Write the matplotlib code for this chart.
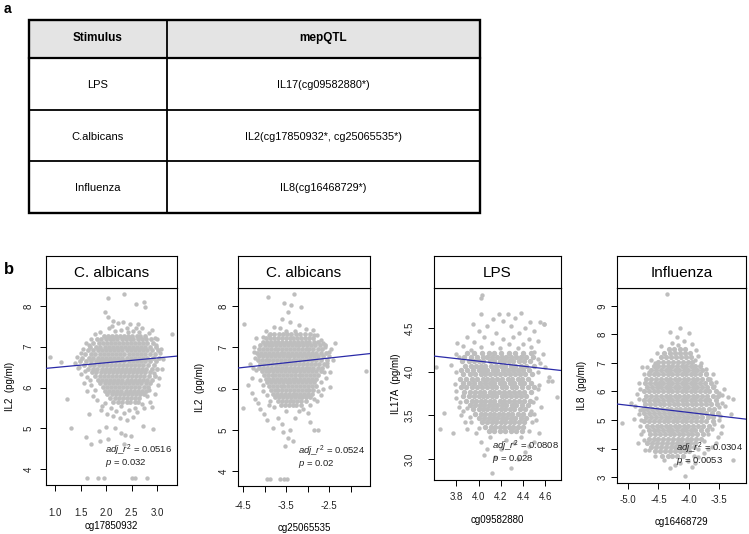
import matplotlib.pyplot as plt
import matplotlib.patches as mpatches

plt.rcParams['font.family'] = ['Liberation Sans', 'DejaVu Sans']
plt.rcParams['axes.unicode_minus'] = False
plt.rcParams['mathtext.fontset'] = 'custom'
plt.rcParams['mathtext.rm'] = 'Liberation Sans'
plt.rcParams['mathtext.it'] = 'Liberation Sans:italic'

# ---------------- table (panel a) ----------------
table_header = ["Stimulus", "mepQTL"]
stimuli = ["LPS", "C.albicans", "Influenza"]
mepqtl = ["IL17(cg09582880*)", "IL2(cg17850932*, cg25065535*)", "IL8(cg16468729*)"]

# ---------------- scatter data (panel b) ----------------
# dense cores as rows (y, [x...]), outliers as (x, y)
ca1_rows = [
    (7.27, [1.95, 2.04, 2.11, 2.2, 2.27, 2.36, 2.43, 2.5, 2.6, 2.67, 2.76]),
    (7.18, [1.82, 1.9, 1.99, 2.07, 2.14, 2.22, 2.31, 2.38, 2.46, 2.53, 2.62, 2.7, 2.79, 2.88]),
    (7.09, [1.75, 1.86, 1.94, 2.02, 2.1, 2.17, 2.26, 2.34, 2.41, 2.49, 2.57, 2.65, 2.73, 2.81, 2.92]),
    (7.0, [1.69, 1.8, 1.88, 1.97, 2.05, 2.13, 2.21, 2.29, 2.37, 2.45, 2.52, 2.6, 2.69, 2.77, 2.86, 2.97]),
    (6.91, [1.64, 1.75, 1.84, 1.92, 2.0, 2.08, 2.16, 2.24, 2.32, 2.4, 2.48, 2.56, 2.64, 2.72, 2.81, 2.9, 3.01]),
    (6.82, [1.58, 1.7, 1.79, 1.88, 1.96, 2.04, 2.12, 2.2, 2.28, 2.36, 2.44, 2.52, 2.6, 2.68, 2.77, 2.86, 2.95]),
    (6.73, [1.53, 1.66, 1.75, 1.84, 1.92, 2.0, 2.08, 2.16, 2.24, 2.32, 2.4, 2.48, 2.56, 2.64, 2.72, 2.81, 2.91, 3.04]),
    (6.64, [1.48, 1.61, 1.71, 1.8, 1.88, 1.96, 2.04, 2.12, 2.2, 2.28, 2.36, 2.44, 2.52, 2.6, 2.68, 2.77, 2.87, 2.98]),
    (6.55, [1.57, 1.68, 1.77, 1.85, 1.93, 2.01, 2.09, 2.17, 2.25, 2.33, 2.41, 2.49, 2.57, 2.65, 2.73, 2.82, 2.93]),
    (6.46, [1.65, 1.75, 1.83, 1.91, 1.99, 2.07, 2.15, 2.23, 2.31, 2.39, 2.47, 2.55, 2.63, 2.71, 2.79, 2.89, 2.99]),
    (6.37, [1.72, 1.81, 1.89, 1.97, 2.05, 2.13, 2.21, 2.29, 2.37, 2.45, 2.53, 2.61, 2.69, 2.77, 2.87]),
    (6.28, [1.79, 1.87, 1.95, 2.03, 2.11, 2.19, 2.27, 2.35, 2.43, 2.51, 2.59, 2.67, 2.75, 2.84, 2.95]),
    (6.19, [1.84, 1.92, 2.0, 2.08, 2.16, 2.24, 2.32, 2.4, 2.48, 2.56, 2.64, 2.72, 2.81, 2.9]),
    (6.1, [1.88, 1.97, 2.05, 2.13, 2.21, 2.29, 2.37, 2.45, 2.53, 2.61, 2.69, 2.78, 2.87]),
    (6.01, [1.93, 2.01, 2.09, 2.17, 2.25, 2.33, 2.41, 2.49, 2.57, 2.65, 2.74, 2.83]),
    (5.92, [1.97, 2.06, 2.14, 2.22, 2.3, 2.38, 2.46, 2.54, 2.62, 2.7, 2.79]),
    (5.83, [2.02, 2.11, 2.19, 2.27, 2.35, 2.43, 2.51, 2.59, 2.67, 2.75]),
    (5.74, [2.07, 2.17, 2.25, 2.33, 2.41, 2.49, 2.57, 2.65]),
    (5.65, [2.13, 2.24, 2.31, 2.4, 2.47, 2.56, 2.63]),
]
ca1_extra = [
    (2.04, 8.19), (2.35, 8.29), (2.59, 8.04), (2.75, 8.09), (2.76, 7.97), (1.97, 7.86),
    (2.03, 7.72), (2.14, 7.62), (2.24, 7.58), (2.33, 7.6), (2.47, 7.55), (2.58, 7.47),
    (2.7, 7.45), (2.06, 7.45), (2.18, 7.38), (2.3, 7.4), (2.42, 7.36), (2.52, 7.38),
    (2.64, 7.36), (2.85, 7.33), (1.88, 7.36), (1.79, 7.3), (2.95, 7.22), (3.29, 7.3),
    (3.08, 6.94), (3.0, 7.2), (3.04, 6.23), (2.94, 6.35),
    (0.9, 6.75), (1.12, 6.62), (1.23, 5.72), (1.32, 5.0), (1.38, 6.6), (1.44, 6.48),
    (1.5, 6.32), (1.56, 6.1), (1.62, 5.92), (1.68, 6.18), (1.74, 5.78), (1.66, 5.35),
    (1.6, 4.79), (1.7, 4.61), (1.42, 6.75), (1.55, 6.95), (1.61, 7.1),
    (1.88, 4.69), (2.04, 4.73), (2.0, 5.04), (2.18, 5.0), (2.29, 4.88), (2.37, 4.83),
    (2.48, 4.81), (2.73, 5.05), (2.92, 4.99), (2.9, 5.52), (1.86, 4.94), (1.92, 5.55),
    (2.1, 5.5), (2.2, 5.42), (2.35, 5.38), (2.45, 5.45), (2.56, 5.5), (2.7, 5.6),
    (2.8, 5.78), (2.27, 5.25), (2.4, 5.2), (2.14, 5.3), (2.52, 5.28), (1.98, 5.62),
    (2.85, 5.95), (2.3, 5.55), (2.35, 4.62),
    (1.5, 6.85), (1.46, 6.5), (1.58, 6.4), (1.63, 6.25), (1.7, 6.05), (1.78, 5.95),
    (1.83, 5.7), (1.9, 5.45), (2.02, 5.35), (2.6, 5.4), (2.75, 5.5), (2.86, 5.65),
    (2.95, 5.85), (3.02, 6.05), (3.1, 6.45), (3.12, 6.7), (3.06, 6.85), (2.98, 7.05),
    (2.9, 7.4), (1.7, 7.2), (1.66, 7.05), (2.12, 7.5), (2.4, 7.47), (2.62, 7.55),
    (1.63, 3.79), (1.84, 3.79), (1.96, 3.79), (2.51, 3.79), (2.57, 3.79), (2.8, 3.79),
]

ca2_rows = [
    (7.32, [-3.88, -3.78, -3.67, -3.57, -3.47, -3.38, -3.27, -3.17, -3.06, -2.95]),
    (7.23, [-3.97, -3.87, -3.78, -3.69, -3.6, -3.51, -3.42, -3.33, -3.24, -3.15, -3.06, -2.97, -2.87]),
    (7.14, [-4.05, -3.95, -3.86, -3.77, -3.68, -3.59, -3.5, -3.41, -3.32, -3.23, -3.14, -3.05, -2.96, -2.86, -2.76]),
    (7.05, [-4.1, -4.0, -3.91, -3.82, -3.73, -3.64, -3.55, -3.46, -3.37, -3.28, -3.19, -3.1, -3.01, -2.92, -2.82, -2.71, -2.6]),
    (6.96, [-4.14, -4.04, -3.95, -3.86, -3.77, -3.68, -3.59, -3.5, -3.41, -3.32, -3.23, -3.14, -3.05, -2.96, -2.87, -2.77, -2.66]),
    (6.87, [-4.18, -4.08, -3.99, -3.9, -3.81, -3.72, -3.63, -3.54, -3.45, -3.36, -3.27, -3.18, -3.09, -3.0, -2.91, -2.81, -2.7, -2.58]),
    (6.78, [-4.12, -4.03, -3.94, -3.85, -3.76, -3.67, -3.58, -3.49, -3.4, -3.31, -3.22, -3.13, -3.04, -2.95, -2.86, -2.76, -2.64]),
    (6.69, [-4.16, -4.07, -3.98, -3.89, -3.8, -3.71, -3.62, -3.53, -3.44, -3.35, -3.26, -3.17, -3.08, -2.99, -2.9, -2.8, -2.69, -2.55]),
    (6.6, [-4.1, -4.01, -3.92, -3.83, -3.74, -3.65, -3.56, -3.47, -3.38, -3.29, -3.2, -3.11, -3.02, -2.93, -2.84, -2.74, -2.62]),
    (6.51, [-4.13, -4.04, -3.95, -3.86, -3.77, -3.68, -3.59, -3.5, -3.41, -3.32, -3.23, -3.14, -3.05, -2.96, -2.87, -2.77, -2.66]),
    (6.42, [-4.07, -3.98, -3.89, -3.8, -3.71, -3.62, -3.53, -3.44, -3.35, -3.26, -3.17, -3.08, -2.99, -2.9, -2.81, -2.7]),
    (6.33, [-4.02, -3.93, -3.84, -3.75, -3.66, -3.57, -3.48, -3.39, -3.3, -3.21, -3.12, -3.03, -2.94, -2.85, -2.75]),
    (6.24, [-3.98, -3.89, -3.8, -3.71, -3.62, -3.53, -3.44, -3.35, -3.26, -3.17, -3.08, -2.99, -2.9, -2.8]),
    (6.15, [-3.94, -3.85, -3.76, -3.67, -3.58, -3.49, -3.4, -3.31, -3.22, -3.13, -3.04, -2.95, -2.85]),
    (6.06, [-3.9, -3.81, -3.72, -3.63, -3.54, -3.45, -3.36, -3.27, -3.18, -3.09, -3.0, -2.91, -2.81]),
    (5.97, [-3.86, -3.77, -3.68, -3.59, -3.5, -3.41, -3.32, -3.23, -3.14, -3.05, -2.96, -2.87]),
    (5.88, [-3.8, -3.71, -3.62, -3.53, -3.44, -3.35, -3.26, -3.17, -3.08, -2.99, -2.9]),
    (5.79, [-3.75, -3.66, -3.57, -3.48, -3.39, -3.3, -3.21, -3.12, -3.03, -2.94]),
    (5.7, [-3.7, -3.6, -3.51, -3.42, -3.33, -3.24, -3.15, -3.05]),
    (5.61, [-3.63, -3.53, -3.44, -3.35, -3.26, -3.16]),
]
ca2_extra = [
    (-3.93, 8.21), (-3.32, 8.29), (-3.55, 8.08), (-3.39, 8.04), (-3.15, 7.98), (-3.45, 7.85),
    (-3.6, 7.7), (-3.42, 7.62), (-3.2, 7.55), (-3.78, 7.5), (-3.65, 7.48), (-3.05, 7.45),
    (-2.88, 7.42), (-3.98, 7.4), (-2.78, 7.3), (-2.7, 7.18), (-4.2, 7.22), (-4.48, 7.56),
    (-4.5, 5.52), (-4.38, 6.1), (-4.3, 5.9), (-4.26, 6.5), (-4.22, 5.75), (-4.15, 5.65),
    (-4.1, 5.5), (-4.05, 5.95), (-4.25, 6.9), (-4.35, 6.6), (-4.02, 5.38), (-3.95, 5.25),
    (-3.9, 5.6), (-4.3, 6.25),
    (-3.81, 5.05), (-3.52, 4.62), (-3.6, 5.15), (-3.7, 5.3), (-3.45, 4.8), (-3.4, 5.0),
    (-3.3, 5.3), (-3.2, 5.45), (-3.5, 5.45), (-3.58, 4.95), (-3.35, 4.72), (-3.1, 5.5),
    (-2.95, 5.2), (-2.85, 5.0), (-2.75, 5.0), (-3.0, 5.4),
    (-1.65, 6.42), (-2.48, 6.04), (-2.36, 7.1), (-2.45, 6.95), (-2.5, 6.8), (-2.55, 6.55),
    (-2.48, 6.4), (-2.58, 6.25), (-2.65, 6.0), (-2.7, 5.85), (-2.78, 5.7), (-2.4, 6.7),
    (-2.6, 7.0),
    (-4.25, 7.0), (-4.22, 6.75), (-4.2, 6.45), (-4.1, 6.2), (-4.05, 6.1), (-3.95, 5.85),
    (-3.88, 5.7), (-3.78, 5.55), (-2.95, 5.6), (-2.85, 5.75), (-2.75, 5.95), (-2.7, 6.15),
    (-2.62, 6.4), (-2.55, 6.62), (-2.5, 6.9), (-2.65, 7.1), (-2.85, 7.3), (-3.9, 7.3),
    (-4.05, 7.25), (-3.3, 7.4), (-3.5, 7.4),
    (-3.95, 3.8), (-3.87, 3.8), (-3.64, 3.8), (-3.56, 3.8), (-3.48, 3.8),
]

lps_rows = [
    (4.22, [3.9, 3.96, 4.03, 4.09, 4.14, 4.2, 4.27, 4.33, 4.4, 4.47]),
    (4.17, [3.87, 3.93, 3.99, 4.04, 4.08, 4.12, 4.17, 4.21, 4.25, 4.29, 4.34, 4.38, 4.43, 4.49]),
    (4.12, [3.85, 3.91, 3.96, 4.0, 4.04, 4.1, 4.14, 4.19, 4.23, 4.27, 4.31, 4.36, 4.41, 4.46]),
    (4.07, [3.88, 3.93, 3.98, 4.02, 4.06, 4.11, 4.16, 4.2, 4.24, 4.29, 4.33, 4.38, 4.43, 4.5]),
    (4.02, [3.84, 3.9, 3.95, 4.0, 4.04, 4.08, 4.13, 4.17, 4.22, 4.26, 4.31, 4.35, 4.4, 4.45]),
    (3.97, [3.86, 3.92, 3.97, 4.02, 4.06, 4.1, 4.15, 4.19, 4.24, 4.28, 4.33, 4.37, 4.42, 4.48]),
    (3.92, [3.83, 3.89, 3.94, 3.99, 4.04, 4.08, 4.12, 4.17, 4.21, 4.26, 4.3, 4.35, 4.39, 4.44]),
    (3.87, [3.86, 3.91, 3.96, 4.01, 4.06, 4.1, 4.14, 4.19, 4.23, 4.28, 4.32, 4.37, 4.41, 4.47]),
    (3.82, [3.84, 3.89, 3.94, 3.99, 4.03, 4.08, 4.12, 4.16, 4.21, 4.25, 4.3, 4.34, 4.39, 4.44, 4.5]),
    (3.77, [3.87, 3.92, 3.97, 4.01, 4.05, 4.1, 4.14, 4.18, 4.23, 4.27, 4.32, 4.36, 4.41, 4.47]),
    (3.72, [3.86, 3.91, 3.96, 4.0, 4.04, 4.08, 4.12, 4.16, 4.21, 4.25, 4.29, 4.34, 4.38, 4.43]),
    (3.67, [3.89, 3.94, 3.98, 4.02, 4.06, 4.1, 4.14, 4.19, 4.23, 4.27, 4.32, 4.36, 4.41, 4.46]),
    (3.62, [3.92, 3.97, 4.01, 4.05, 4.09, 4.13, 4.17, 4.21, 4.25, 4.3, 4.34, 4.39, 4.44]),
    (3.57, [3.95, 4.0, 4.04, 4.08, 4.12, 4.16, 4.2, 4.24, 4.28, 4.32, 4.37, 4.42]),
    (3.52, [3.97, 4.02, 4.06, 4.1, 4.14, 4.18, 4.22, 4.26, 4.3, 4.35, 4.4, 4.46]),
    (3.47, [4.0, 4.05, 4.09, 4.13, 4.17, 4.21, 4.25, 4.29, 4.33, 4.38, 4.43]),
    (3.42, [4.03, 4.08, 4.12, 4.16, 4.2, 4.24, 4.28, 4.32, 4.36, 4.41]),
    (3.37, [4.06, 4.11, 4.15, 4.19, 4.23, 4.27, 4.31, 4.35, 4.4]),
    (3.32, [4.09, 4.14, 4.19, 4.24, 4.29, 4.34, 4.39]),
]
lps_extra = [
    (4.03, 4.88), (4.02, 4.84), (4.02, 4.66), (4.18, 4.66), (4.26, 4.66), (4.38, 4.67),
    (4.13, 4.6), (4.22, 4.58), (4.33, 4.62), (4.46, 4.57), (4.55, 4.57), (4.59, 4.55),
    (3.95, 4.55), (4.08, 4.52), (4.29, 4.52), (4.42, 4.5), (4.5, 4.47), (4.0, 4.47),
    (4.16, 4.45), (4.36, 4.44), (3.9, 4.4), (4.05, 4.4), (4.22, 4.38), (4.31, 4.4),
    (4.45, 4.38), (3.96, 4.34), (4.12, 4.33), (4.27, 4.32), (4.4, 4.32), (4.53, 4.35),
    (3.86, 4.3), (4.02, 4.28), (4.19, 4.27), (4.35, 4.27), (4.47, 4.28), (3.81, 4.33),
    (3.93, 4.25),
    (3.65, 3.34), (3.69, 3.53), (3.77, 3.3), (3.75, 4.08), (3.79, 3.86), (3.8, 3.7),
    (3.82, 3.6), (3.84, 3.5), (3.88, 3.42), (3.86, 3.55), (3.9, 3.35), (3.92, 3.48),
    (3.8, 4.2), (3.62, 4.05),
    (4.7, 3.71), (4.66, 3.89), (4.63, 3.94), (4.6, 4.05), (4.59, 4.55), (4.55, 4.1),
    (4.53, 3.8), (4.56, 3.6), (4.52, 3.45), (4.54, 3.3), (4.5, 3.2), (4.47, 3.55),
    (4.62, 3.9), (4.58, 4.2), (4.49, 3.65),
    (3.82, 4.17), (3.8, 4.0), (3.8, 3.78), (3.83, 3.65), (3.9, 3.58), (3.93, 3.42),
    (4.0, 3.36), (4.45, 3.32), (4.48, 3.42), (4.5, 3.52), (4.52, 3.7), (4.54, 3.85),
    (4.53, 4.0), (4.53, 4.15), (4.5, 4.23),
    (4.12, 2.84), (4.29, 2.9), (4.05, 3.05), (4.15, 3.02), (4.2, 3.12), (4.32, 3.18),
    (4.45, 3.15), (4.02, 3.2), (4.1, 3.25), (4.25, 3.22), (4.38, 3.25), (4.08, 3.12),
    (3.98, 3.3), (4.42, 3.08), (4.35, 3.0),
]

flu_rows = [
    (7.5, [-4.33, -4.24, -4.15, -4.06]),
    (7.35, [-4.4, -4.31, -4.22, -4.14, -4.06, -3.98]),
    (7.2, [-4.46, -4.37, -4.29, -4.21, -4.13, -4.05, -3.97]),
    (7.05, [-4.5, -4.42, -4.34, -4.26, -4.18, -4.1, -4.02, -3.94]),
    (6.9, [-4.58, -4.5, -4.42, -4.35, -4.27, -4.2, -4.12, -4.05, -3.97, -3.9, -3.82]),
    (6.75, [-4.62, -4.54, -4.46, -4.38, -4.31, -4.23, -4.16, -4.08, -4.01, -3.93, -3.86, -3.78]),
    (6.6, [-4.66, -4.58, -4.5, -4.42, -4.35, -4.27, -4.2, -4.12, -4.05, -3.97, -3.9, -3.82, -3.72]),
    (6.45, [-4.7, -4.62, -4.54, -4.46, -4.38, -4.31, -4.23, -4.16, -4.08, -4.01, -3.93, -3.86, -3.78, -3.68]),
    (6.3, [-4.72, -4.64, -4.56, -4.49, -4.42, -4.35, -4.27, -4.2, -4.12, -4.05, -3.97, -3.9, -3.82, -3.74, -3.64]),
    (6.15, [-4.68, -4.6, -4.53, -4.46, -4.38, -4.31, -4.23, -4.16, -4.08, -4.01, -3.93, -3.86, -3.78, -3.7, -3.6]),
    (6.0, [-4.74, -4.66, -4.58, -4.5, -4.42, -4.35, -4.27, -4.2, -4.12, -4.05, -3.97, -3.9, -3.82, -3.74, -3.66, -3.56]),
    (5.85, [-4.7, -4.62, -4.54, -4.46, -4.38, -4.31, -4.23, -4.16, -4.08, -4.01, -3.93, -3.86, -3.78, -3.7, -3.61, -3.52]),
    (5.7, [-4.74, -4.66, -4.58, -4.5, -4.42, -4.35, -4.27, -4.2, -4.12, -4.05, -3.97, -3.9, -3.82, -3.74, -3.66, -3.56]),
    (5.55, [-4.72, -4.64, -4.56, -4.48, -4.4, -4.33, -4.25, -4.18, -4.1, -4.03, -3.95, -3.88, -3.8, -3.72, -3.63, -3.53]),
    (5.4, [-4.76, -4.68, -4.6, -4.52, -4.44, -4.36, -4.29, -4.21, -4.14, -4.06, -3.99, -3.91, -3.84, -3.76, -3.67, -3.58]),
    (5.25, [-4.73, -4.65, -4.57, -4.49, -4.41, -4.33, -4.26, -4.18, -4.11, -4.03, -3.96, -3.88, -3.8, -3.71, -3.62, -3.52]),
    (5.1, [-4.7, -4.62, -4.54, -4.46, -4.38, -4.31, -4.23, -4.16, -4.08, -4.01, -3.93, -3.86, -3.78, -3.69, -3.6]),
    (4.95, [-4.73, -4.65, -4.57, -4.49, -4.41, -4.34, -4.26, -4.19, -4.11, -4.04, -3.96, -3.88, -3.8, -3.71, -3.6]),
    (4.8, [-4.69, -4.61, -4.53, -4.46, -4.38, -4.31, -4.23, -4.16, -4.08, -4.01, -3.93, -3.85, -3.76, -3.66]),
    (4.65, [-4.66, -4.58, -4.5, -4.42, -4.35, -4.27, -4.2, -4.12, -4.05, -3.97, -3.89, -3.8, -3.7]),
    (4.5, [-4.63, -4.55, -4.47, -4.39, -4.31, -4.24, -4.16, -4.09, -4.01, -3.94, -3.86, -3.76]),
    (4.35, [-4.66, -4.58, -4.5, -4.42, -4.34, -4.26, -4.18, -4.11, -4.03, -3.96, -3.88, -3.8]),
    (4.2, [-4.68, -4.6, -4.52, -4.44, -4.36, -4.28, -4.2, -4.13, -4.05, -3.98, -3.9]),
    (4.05, [-4.62, -4.54, -4.46, -4.38, -4.3, -4.22, -4.15, -4.07, -3.99, -3.92]),
    (3.9, [-4.55, -4.47, -4.39, -4.31, -4.23, -4.15, -4.07, -3.99]),
    (3.75, [-4.44, -4.35, -4.27, -4.19, -4.1]),
]
flu_extra = [
    (-4.36, 9.41), (-4.31, 8.1), (-4.14, 8.22), (-3.99, 8.06), (-4.2, 7.9), (-4.08, 7.78),
    (-4.27, 7.7), (-3.95, 7.65), (-4.45, 7.6), (-4.18, 7.62), (-3.88, 7.45), (-4.52, 7.35),
    (-4.62, 7.1), (-3.85, 7.25), (-3.8, 7.0), (-3.72, 6.8), (-4.68, 6.85), (-4.74, 6.6),
    (-5.09, 4.88), (-4.77, 6.87), (-4.82, 6.3), (-4.85, 5.9), (-4.88, 5.5), (-4.82, 5.2),
    (-4.8, 4.8), (-4.78, 4.5), (-4.84, 4.2), (-4.72, 3.95), (-4.9, 5.05), (-4.95, 5.6),
    (-3.28, 5.72), (-3.3, 5.2), (-3.36, 5.82), (-3.45, 5.88), (-3.5, 5.45), (-3.5, 5.0),
    (-3.47, 4.55), (-3.52, 4.4), (-3.28, 3.6), (-3.42, 6.1), (-3.55, 6.35), (-3.6, 6.6),
    (-3.45, 4.8), (-3.56, 4.2), (-3.62, 4.05), (-3.4, 5.5), (-3.62, 4.7),
    (-4.8, 6.1), (-4.82, 5.75), (-4.8, 5.35), (-4.78, 5.0), (-4.75, 4.6), (-4.74, 4.3),
    (-4.66, 3.95), (-4.55, 3.75), (-3.92, 3.75), (-3.85, 4.0), (-3.75, 4.25), (-3.68, 4.5),
    (-3.58, 4.85), (-3.48, 5.15), (-3.46, 5.6), (-3.5, 5.95), (-3.58, 6.2), (-3.65, 6.45),
    (-3.72, 6.65), (-3.9, 7.1), (-4.55, 7.0), (-4.65, 6.7),
    (-4.06, 3.05), (-4.31, 3.3), (-4.22, 3.42), (-3.95, 3.35), (-4.02, 3.55), (-4.4, 3.58),
    (-3.85, 3.7), (-3.75, 3.85), (-3.68, 4.0), (-4.15, 3.5), (-3.9, 3.5),
]

# regression lines (end points at the plot edges)
fit_x = [[0.82, 3.39], [-4.62, -1.55], [3.60, 4.74], [-5.18, -3.06]]
fit_y = [[6.47, 6.77], [6.50, 6.85], [4.18, 4.015], [5.56, 5.03]]

titles = ["C. albicans", "C. albicans", "LPS", "Influenza"]
xlabels = ["cg17850932", "cg25065535", "cg09582880", "cg16468729"]
ylabels = ["IL2  (pg/ml)", "IL2  (pg/ml)", "IL17A  (pg/ml)", "IL8  (pg/ml)"]
adj_r2 = ["0.0516", "0.0524", "0.0808", "0.0304"]
pvals = ["0.032", "0.02", "0.028", "0.0053"]

xticks = [[1.0, 1.5, 2.0, 2.5, 3.0], [-4.5, -4.0, -3.5, -3.0, -2.5, -2.0],
          [3.8, 4.0, 4.2, 4.4, 4.6], [-5.0, -4.5, -4.0, -3.5]]
xticklabels = [["1.0", "1.5", "2.0", "2.5", "3.0"], ["-4.5", "", "-3.5", "", "-2.5", ""],
               ["3.8", "4.0", "4.2", "4.4", "4.6"], ["-5.0", "-4.5", "-4.0", "-3.5"]]
yticks = [[4, 5, 6, 7, 8], [4, 5, 6, 7, 8], [3.0, 3.5, 4.0, 4.5], [3, 4, 5, 6, 7, 8, 9]]
yticklabels = [["4", "5", "6", "7", "8"], ["4", "5", "6", "7", "8"],
               ["3.0", "3.5", "4.0", "4.5"], ["3", "4", "5", "6", "7", "8", "9"]]


def unpack_rows(rows):
    xs = [x for y, row in rows for x in row]
    ys = [y for y, row in rows for x in row]
    return xs, ys


def unpack_pts(pts):
    return [p[0] for p in pts], [p[1] for p in pts]


panel_rows = [ca1_rows, ca2_rows, lps_rows, flu_rows]
panel_extra = [ca1_extra, ca2_extra, lps_extra, flu_extra]
core_size = [12, 12, 15, 14]

W, H = 749, 534
fig = plt.figure(figsize=(W / 100, H / 100), dpi=100)


def px_axes(x0, y0, x1, y1):
    return fig.add_axes([x0 / W, 1 - y1 / H, (x1 - x0) / W, (y1 - y0) / H])


# ---- panel a: table ----
tab = fig.add_axes([0, 0, 1, 1])
tab.set_xlim(0, W)
tab.set_ylim(H, 0)
tab.axis('off')
tl, tr, tc = 29, 480, 167
row_edges = [20, 58, 110, 161, 213]
tab.add_patch(mpatches.Rectangle((tl, row_edges[0]), tr - tl, row_edges[1] - row_edges[0],
                                 facecolor='#e4e4e4', edgecolor='none'))
for yy in row_edges[1:-1]:
    tab.plot([tl, tr], [yy, yy], color='black', lw=1.3 if yy != 58 else 1.6)
tab.plot([tc, tc], [row_edges[0], row_edges[-1]], color='black', lw=1.3)
tab.add_patch(mpatches.Rectangle((tl, row_edges[0]), tr - tl, row_edges[-1] - row_edges[0],
                                 facecolor='none', edgecolor='black', lw=1.7))
cx1, cx2 = (tl + tc) / 2, (tc + tr) / 2
tab.text(cx1, 38, table_header[0], ha='center', va='center', fontsize=8.5,
         fontweight='bold')
tab.text(cx2, 38, table_header[1], ha='center', va='center', fontsize=8.5,
         fontweight='bold')
for i, (s, q) in enumerate(zip(stimuli, mepqtl)):
    yc = (row_edges[i + 1] + row_edges[i + 2]) / 2 + 1
    tab.text(cx1, yc, s, ha='center', va='center', fontsize=8)
    tab.text(cx2, yc, q, ha='center', va='center', fontsize=7.8)

tab.text(4, 9, "a", ha='left', va='center', fontsize=10, fontweight='bold')
tab.text(4, 270, "b", ha='left', va='center', fontsize=12, fontweight='bold')

# ---- panel b: scatter plots ----
boxes = [(46, 177, 485), (238, 370, 486), (434, 561, 480), (617, 746, 483)]
xlims = [(0.82, 3.39), (-4.62, -1.55), (3.60, 4.74), (-5.18, -3.06)]
ylims = [(3.61, 8.44), (3.64, 8.44), (2.76, 4.96), (2.79, 9.63)]
xpads = [12, 6, 4.3, 4.3]
ypads = [4.5, 2, 9.5, 2]
ylab_x = [10, 200, 396, 582]
xlab_y = [526, 528, 520, 522]
ann_x = [105, 298, 492, 676]
ann_y = [456, 457, 452, 454]
top = 288
strip_top = 256

for i in range(4):
    x0, x1, yb = boxes[i]
    ax = px_axes(x0, top, x1, yb)
    cx, cy = unpack_rows(panel_rows[i])
    ex, ey = unpack_pts(panel_extra[i])
    ax.scatter(cx, cy, s=core_size[i], color='#bebebe', linewidths=0, zorder=2)
    ax.scatter(ex, ey, s=10, color='#bebebe', linewidths=0, zorder=2)
    ax.plot(fit_x[i], fit_y[i], color='#2a2aa8', lw=0.9, zorder=3)
    ax.set_xlim(*xlims[i])
    ax.set_ylim(*ylims[i])
    ax.set_xticks(xticks[i])
    ax.set_xticklabels(xticklabels[i])
    ax.set_yticks(yticks[i])
    ax.set_yticklabels(yticklabels[i], rotation=90, va='center')
    ax.tick_params(axis='both', direction='out', length=4.5, width=0.7,
                   labelsize=7, labelcolor='#222222')
    ax.tick_params(axis='x', pad=xpads[i])
    ax.tick_params(axis='y', pad=ypads[i])
    for sp in ax.spines.values():
        sp.set_linewidth(0.8)

    # strip title box
    st = px_axes(x0, strip_top, x1, top)
    st.set_xticks([])
    st.set_yticks([])
    for sp in st.spines.values():
        sp.set_linewidth(0.8)
    st.text(0.5, 0.48, titles[i], transform=st.transAxes, ha='center', va='center',
            fontsize=11)

    fig.text(ylab_x[i] / W, 1 - (top + yb) / 2 / H, ylabels[i], rotation=90,
             ha='center', va='center', fontsize=7)
    fig.text((x0 + x1) / 2 / W, 1 - xlab_y[i] / H, xlabels[i], ha='center',
             va='center', fontsize=7)
    ann = r'$\mathit{adj\_r}^2$ = ' + adj_r2[i] + '\n' + r'$\mathit{p}$ = ' + pvals[i]
    fig.text(ann_x[i] / W, 1 - ann_y[i] / H, ann, ha='left', va='center',
             fontsize=6.8, color='#222222', linespacing=0.85)

fig.savefig('out.png', dpi=100)
